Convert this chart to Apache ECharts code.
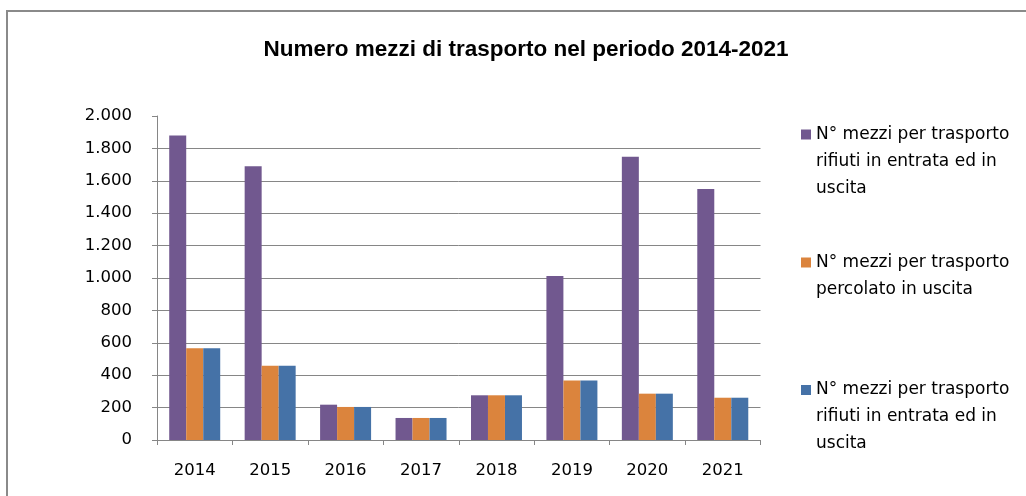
<!DOCTYPE html>
<html>
<head>
<meta charset="utf-8">
<script src="https://cdn.jsdelivr.net/npm/echarts@6/dist/echarts.min.js"></script>
<style>html,body{margin:0;padding:0;background:#fff;}#c{width:1026px;height:496px;}</style>
</head>
<body>
<div id="c"></div>
<script>
const categories = ['2014','2015','2016','2017','2018','2019','2020','2021'];
const seriesNames = [
  'N° mezzi per trasporto\nrifiuti in entrata ed in\nuscita',
  'N° mezzi per trasporto\npercolato in uscita',
  'N° mezzi per trasporto\nrifiuti in entrata ed in\nuscita '
];
const rifiuti = [1880, 1690, 218, 136, 276, 1012, 1749, 1549];
const percolato = [566, 459, 204, 136, 276, 368, 286, 261];
const rifiuti2 = [566, 459, 204, 136, 276, 368, 286, 261];
const yTicks = [0, 200, 400, 600, 800, 1000, 1200, 1400, 1600, 1800, 2000];

const FONT = '"DejaVu Sans", sans-serif';
const TITLE_FONT = '"Liberation Sans", Arial, sans-serif';
const colors = ['#71588F', '#DB843D', '#4572A7'];
const gridColors = yTicks.map((v, i) => i === yTicks.length - 1 ? 'rgba(0,0,0,0)' : '#868686');

function fmt(v) {
  return String(v).replace(/\B(?=(\d{3})+(?!\d))/g, '.');
}

function legendFor(name, top) {
  const lines = name.split('\n').length;
  const prefix = '\n'.repeat(lines - 1);
  return {
    show: true,
    orient: 'vertical',
    left: 801,
    top: top,
    padding: 0,
    itemWidth: 10,
    itemHeight: 10,
    itemGap: 0,
    itemStyle: { borderWidth: 0 },
    icon: 'rect',
    data: [{ name: name }],
    formatter: function (n) { return prefix + n.replace(/ $/, ''); },
    textStyle: {
      fontFamily: FONT,
      fontSize: 17,
      color: '#000',
      lineHeight: 27
    },
    selectedMode: false
  };
}

const chart = echarts.init(document.getElementById('c'), null, { renderer: 'canvas' });
chart.setOption({
  animation: false,
  color: colors,
  title: {
    text: 'Numero mezzi di trasporto nel periodo 2014-2021',
    left: 521,
    top: 33,
    textAlign: 'center',
    textStyle: { fontFamily: TITLE_FONT, fontWeight: 'bold', fontSize: 22.5, color: '#000' }
  },
  graphic: [{
    type: 'rect',
    shape: { x: 7, y: 11, width: 1040, height: 520 },
    style: { fill: 'none', stroke: '#8a8a8a', lineWidth: 2 },
    silent: true
  }],
  legend: [
    legendFor(seriesNames[0], 134.5 - 67.5),
    legendFor(seriesNames[1], 262.5 - 40.5),
    legendFor(seriesNames[2], 390 - 67.5)
  ],
  grid: { left: 157, right: 265.5, top: 116, bottom: 56 },
  xAxis: {
    type: 'category',
    data: categories,
    axisLine: { lineStyle: { color: '#868686', width: 1 } },
    axisTick: { show: true, length: 5, lineStyle: { color: '#868686' } },
    axisLabel: { fontFamily: FONT, fontSize: 16.5, color: '#000', margin: 22 }
  },
  yAxis: {
    type: 'value',
    min: 0,
    max: 2000,
    interval: 200,
    axisLine: { show: true, lineStyle: { color: '#868686', width: 1 } },
    axisTick: { show: true, length: 5, lineStyle: { color: '#868686' } },
    splitLine: { show: true, lineStyle: { color: gridColors, width: 1 } },
    axisLabel: { fontFamily: FONT, fontSize: 16.5, color: '#000', margin: 25, formatter: fmt }
  },
  series: [
    { name: seriesNames[0], type: 'bar', data: rifiuti, barWidth: 17, barGap: '0%' },
    { name: seriesNames[1], type: 'bar', data: percolato, barWidth: 17, barGap: '0%' },
    { name: seriesNames[2], type: 'bar', data: rifiuti2, barWidth: 17, barGap: '0%' }
  ]
});
</script>
</body>
</html>
